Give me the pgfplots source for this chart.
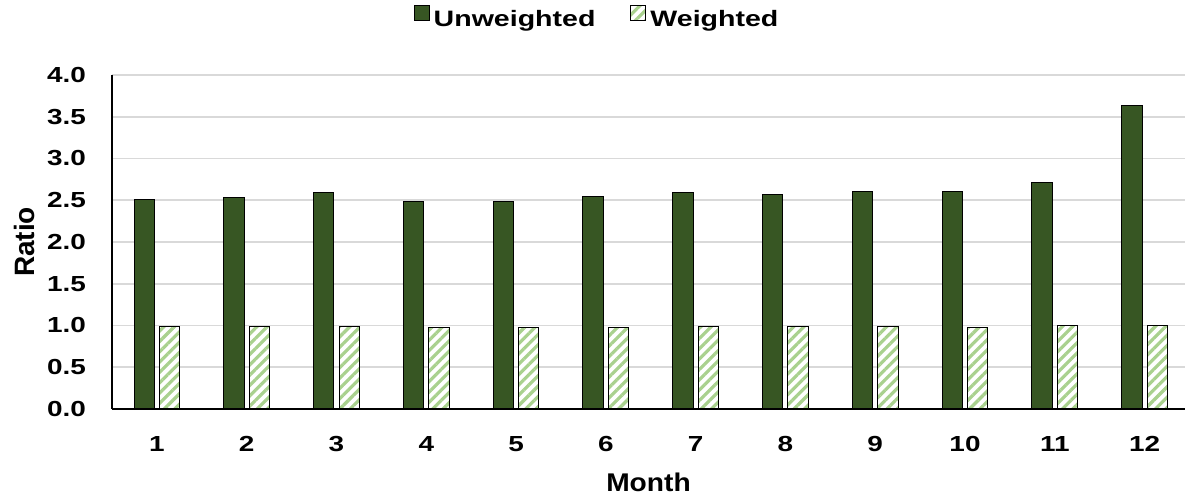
\documentclass[border=0pt]{standalone}
\usepackage{fontspec}
\setmainfont{Liberation Sans}
\newfontfamily\widefont{Liberation Sans}[FakeStretch=1.28]
\newfontfamily\semiwidefont{Liberation Sans}[FakeStretch=1.1]
\usepackage{pgfplots}
\pgfplotsset{compat=1.18}
\usetikzlibrary{patterns.meta}

\definecolor{darkgreen}{HTML}{375623}
\definecolor{hatchgreen}{HTML}{A9D18E}
\definecolor{gridgray}{HTML}{D9D9D9}

\begin{document}
\begin{tikzpicture}
\begin{axis}[
  name=ax,
  scale only axis,
  width=536.5pt, height=167pt,
  xmin=0.5, xmax=12.45,
  ymin=0, ymax=4,
  ybar=2.55pt,
  bar width=10.15pt,
  axis x line*=bottom,
  axis y line*=left,
  axis line style={black, line width=0.75pt},
  major tick length=0pt,
  xtick={1,...,12},
  ytick={0,0.5,...,4},
  ymajorgrids,
  grid style={gridgray, line width=0.8pt},
  tick label style={font=\widefont\bfseries\fontsize{10.9pt}{12pt}\selectfont},
  /pgf/number format/assume math mode=true,
  yticklabel style={/pgf/number format/fixed, /pgf/number format/fixed zerofill,
    /pgf/number format/precision=1, anchor=east, xshift=-9.5pt},
  xticklabel style={anchor=center, yshift=-17.5pt},
  xlabel={Month},
  ylabel={Ratio},
  xlabel style={at={(axis description cs:0.5,-0.22)}, anchor=center,
    font=\semiwidefont\bfseries\fontsize{12.8pt}{14pt}\selectfont},
  ylabel style={at={(axis description cs:-0.082,0.5)}, anchor=center,
    font=\bfseries\fontsize{14pt}{16pt}\selectfont},
  legend style={at={(0.453,1.168)}, anchor=center, draw=none, fill=none,
    legend columns=2, font=\widefont\bfseries\fontsize{11.15pt}{13pt}\selectfont,
    /tikz/every even column/.append style={column sep=15.5pt}},
  legend image code/.code={\draw[#1, line width=0.5pt] (0pt,-0.3pt) rectangle (7.5pt,7.2pt);},
]
\addplot[fill=darkgreen, draw=black, line width=0.5pt]
  coordinates {(1,2.51) (2,2.53) (3,2.59) (4,2.49) (5,2.48) (6,2.55)
               (7,2.59) (8,2.57) (9,2.60) (10,2.60) (11,2.71) (12,3.63)};
\addlegendentry{Unweighted}
\addplot[fill=white, draw=black, line width=0.5pt,
  postaction={pattern={Lines[angle=45, distance=3.65pt, line width=1.6pt]}, pattern color=hatchgreen}]
  coordinates {(1,0.99) (2,0.99) (3,0.99) (4,0.98) (5,0.98) (6,0.97)
               (7,0.99) (8,0.99) (9,0.99) (10,0.98) (11,1.00) (12,1.00)};
\addlegendentry{Weighted}
\end{axis}
\pgfresetboundingbox
\path ([shift={(-56pt,-46pt)}]ax.south west) rectangle ([shift={(536.5pt,204.5pt)}]ax.south west);
\end{tikzpicture}
\end{document}
